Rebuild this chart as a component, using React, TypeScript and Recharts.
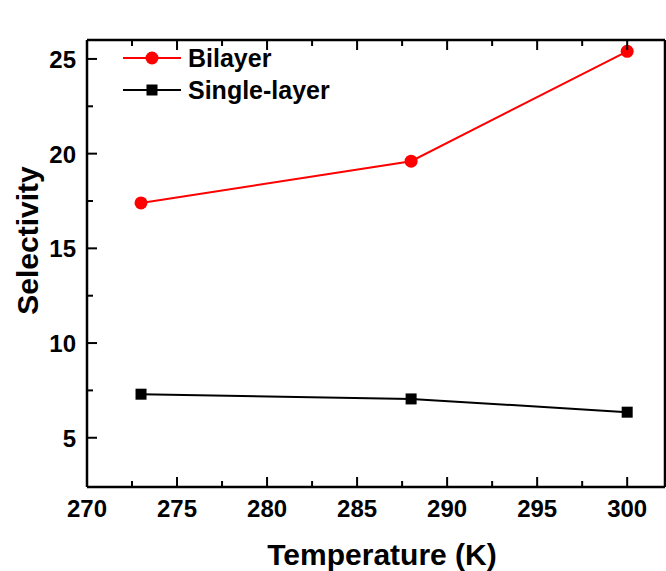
import { LineChart, Line, XAxis, YAxis, Legend, Label, ReferenceLine } from 'recharts'

const temperatures = [273, 288, 300]
const bilayer = [17.4, 19.6, 25.4]
const singleLayer = [7.3, 7.05, 6.35]

const xMajor = [270, 275, 280, 285, 290, 295, 300]
const xMinor = [272.5, 277.5, 282.5, 287.5, 292.5, 297.5]
const yMajor = [5, 10, 15, 20, 25]
const yMinor = [7.5, 12.5, 17.5, 22.5]

const xTicks = [...xMajor, ...xMinor].sort((a, b) => a - b)
const yTicks = [...yMajor, ...yMinor].sort((a, b) => a - b)

const data = temperatures.map((t, i) => ({ t, bilayer: bilayer[i], single: singleLayer[i] }))

const FONT = '"Liberation Sans", Arial, sans-serif'
const X_DOMAIN: [number, number] = [270, 302.1]
const Y_DOMAIN: [number, number] = [2.4, 26]

// chart layout
const W = 666
const H = 571
const TOP = 39
const X_AXIS_H = 84
const Y_AXIS_W = 87
const PLOT_W = W - Y_AXIS_W - 1
const PLOT_H = H - TOP - 1 - X_AXIS_H
const MAJOR = 10
const MINOR = 6

// tick lengths expressed in data units, for the bottom/left inward ticks
const yPerPx = (Y_DOMAIN[1] - Y_DOMAIN[0]) / PLOT_H
const xPerPx = (X_DOMAIN[1] - X_DOMAIN[0]) / PLOT_W

function BottomTick(props: any) {
  const { x, y, payload } = props
  if (!xMajor.includes(payload.value)) return <g />
  return (
    <text x={x} y={y + 20} textAnchor="middle" fontSize={24} fontWeight="bold" fontFamily={FONT} fill="#000">
      {payload.value}
    </text>
  )
}

function LeftTick(props: any) {
  const { x, y, payload } = props
  if (!yMajor.includes(payload.value)) return <g />
  return (
    <text x={x - 1} y={y + 9} textAnchor="end" fontSize={24} fontWeight="bold" fontFamily={FONT} fill="#000">
      {payload.value}
    </text>
  )
}

function TopTick(props: any) {
  const { x, y, payload } = props
  const len = xMajor.includes(payload.value) ? MAJOR : MINOR
  return <rect x={x - 1} y={y} width={2} height={len} fill="#000" />
}

function RightTick(props: any) {
  const { x, y, payload } = props
  const len = yMajor.includes(payload.value) ? MAJOR : MINOR
  return <rect x={x - len} y={y - 1} width={len} height={2} fill="#000" />
}

function SquareDot(props: any) {
  const { cx, cy } = props
  if (cx == null || cy == null) return null
  return <rect x={cx - 5.5} y={cy - 5.5} width={11} height={11} fill="#000" />
}

const series = [
  { key: 'bilayer', name: 'Bilayer', color: '#ff0000', marker: 'circle' },
  { key: 'single', name: 'Single-layer', color: '#000000', marker: 'square' },
]

function LegendBox() {
  return (
    <div style={{ fontFamily: FONT, fontWeight: 'bold', fontSize: 25 }}>
      {series.map(s => (
        <div key={s.key} style={{ display: 'flex', alignItems: 'center', height: 32 }}>
          <svg width={58} height={20} style={{ marginRight: 7 }}>
            <line x1={0} x2={58} y1={10} y2={10} stroke={s.color} strokeWidth={2} />
            {s.marker === 'circle'
              ? <circle cx={29} cy={10} r={6.5} fill={s.color} />
              : <rect x={23.5} y={4.5} width={11} height={11} fill={s.color} />}
          </svg>
          <span style={{ color: '#000', lineHeight: '32px' }}>{s.name}</span>
        </div>
      ))}
    </div>
  )
}

export default function App() {
  return (
    <div style={{ position: 'absolute', left: 0, top: 0, width: W, height: H, background: '#fff' }}>
      <LineChart width={W} height={H} data={data} margin={{ top: TOP, right: 0, left: 0, bottom: 0 }}>
        <XAxis xAxisId="b" dataKey="t" type="number" domain={X_DOMAIN} ticks={xTicks} interval={0}
          orientation="bottom" height={X_AXIS_H} tickSize={0} tickMargin={10} tickLine={false}
          axisLine={{ stroke: '#000', strokeWidth: 2.5 }} tick={<BottomTick />}>
          <Label content={({ viewBox }: any) => (
            <text x={viewBox.x + viewBox.width / 2 + 6} y={viewBox.y + viewBox.height - 6} textAnchor="middle"
              fontSize={30} fontWeight="bold" fontFamily={FONT} fill="#000">Temperature (K)</text>
          )} />
        </XAxis>
        <XAxis xAxisId="t" dataKey="t" type="number" domain={X_DOMAIN} ticks={xTicks} interval={0}
          orientation="top" height={1} tickSize={0} tickMargin={0} tickLine={false}
          axisLine={{ stroke: '#000', strokeWidth: 2.5 }} tick={<TopTick />} />
        <YAxis yAxisId="l" type="number" domain={Y_DOMAIN} ticks={yTicks} interval={0}
          orientation="left" width={Y_AXIS_W} tickSize={0} tickMargin={10} tickLine={false}
          axisLine={{ stroke: '#000', strokeWidth: 2.5 }} tick={<LeftTick />}>
          <Label content={({ viewBox }: any) => (
            <text x={28} y={viewBox.y + viewBox.height / 2 - 23} textAnchor="middle"
              transform={`rotate(-90 28 ${viewBox.y + viewBox.height / 2 - 23})`} dy={10}
              fontSize={30} fontWeight="bold" fontFamily={FONT} fill="#000">Selectivity</text>
          )} />
        </YAxis>
        <YAxis yAxisId="r" type="number" domain={Y_DOMAIN} ticks={yTicks} interval={0}
          orientation="right" width={1} tickSize={0} tickMargin={0} tickLine={false}
          axisLine={{ stroke: '#000', strokeWidth: 2.5 }} tick={<RightTick />} />
        {xTicks.map(v => (
          <ReferenceLine key={'bx' + v} xAxisId="b" yAxisId="l" stroke="#000" strokeWidth={2}
            segment={[{ x: v, y: Y_DOMAIN[0] }, { x: v, y: Y_DOMAIN[0] + yPerPx * (xMajor.includes(v) ? MAJOR : MINOR) }]} />
        ))}
        {yTicks.map(v => (
          <ReferenceLine key={'ly' + v} xAxisId="b" yAxisId="l" stroke="#000" strokeWidth={2}
            segment={[{ x: X_DOMAIN[0], y: v }, { x: X_DOMAIN[0] + xPerPx * (yMajor.includes(v) ? MAJOR : MINOR), y: v }]} />
        ))}
        <Legend layout="vertical" align="center" verticalAlign="middle" content={<LegendBox />}
          wrapperStyle={{ left: 123, top: 42, width: 260 }} />
        <Line xAxisId="b" yAxisId="l" dataKey="bilayer" name="Bilayer" stroke="#ff0000" strokeWidth={2}
          dot={{ r: 6.5, fill: '#ff0000', stroke: '#ff0000', strokeWidth: 0 }} isAnimationActive={false} />
        <Line xAxisId="b" yAxisId="l" dataKey="single" name="Single-layer" stroke="#000" strokeWidth={2}
          dot={<SquareDot />} isAnimationActive={false} />
      </LineChart>
    </div>
  )
}
